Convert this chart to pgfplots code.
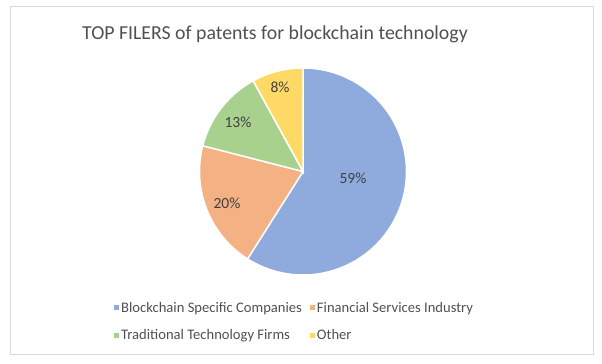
\documentclass[border=0pt]{standalone}
\usepackage{pgfplots}
\pgfplotsset{compat=1.18}
\usepackage{fontspec}
\setmainfont{Carlito}
\definecolor{cBlue}{HTML}{8FAADC}
\definecolor{cOrange}{HTML}{F4B183}
\definecolor{cGreen}{HTML}{A9D18E}
\definecolor{cYellow}{HTML}{FFD966}
\definecolor{cTitle}{HTML}{505050}
\definecolor{cLabel}{HTML}{404040}
\definecolor{cFrame}{HTML}{D9D9D9}
% shares (percent)
\def\va{59}\def\vb{20}\def\vc{13}\def\vd{8}
\pgfmathsetmacro\aA{90}
\pgfmathsetmacro\aB{\aA-3.6*\va}
\pgfmathsetmacro\aC{\aB-3.6*\vb}
\pgfmathsetmacro\aD{\aC-3.6*\vc}
\pgfmathsetmacro\aE{\aD-3.6*\vd}
\def\cx{303}\def\cy{192.5}\def\rr{103.5}
\begin{document}
\begin{tikzpicture}
\begin{axis}[
  scale only axis, width=602bp, height=364bp,
  xmin=0, xmax=602, ymin=0, ymax=364,
  hide axis, clip=false,
  legend columns=2,
  legend cell align=left,
  legend image code/.code={\fill[#1,draw=none] (0bp,-2.5bp) rectangle (5bp,2.5bp);},
  legend style={at={(axis cs:114,42.5)}, anchor=west, draw=none, fill=none,
    inner sep=0pt, row sep=12bp, text=cTitle,
    font=\fontsize{14.6bp}{17bp}\selectfont,
    /tikz/every even column/.append style={column sep=6bp}},
]
\addplot[fill=cBlue, draw=white, line width=1.5pt, domain=\aB:\aA, samples=100, variable=\t]
  ({\cx+\rr*cos(\t)},{\cy+\rr*sin(\t)}) -- (axis cs:\cx,\cy) -- cycle;
\addlegendentry{Blockchain Specific Companies}
\addplot[fill=cOrange, draw=white, line width=1.5pt, domain=\aC:\aB, samples=50, variable=\t]
  ({\cx+\rr*cos(\t)},{\cy+\rr*sin(\t)}) -- (axis cs:\cx,\cy) -- cycle;
\addlegendentry{Financial Services Industry}
\addplot[fill=cGreen, draw=white, line width=1.5pt, domain=\aD:\aC, samples=40, variable=\t]
  ({\cx+\rr*cos(\t)},{\cy+\rr*sin(\t)}) -- (axis cs:\cx,\cy) -- cycle;
\addlegendentry{Traditional Technology Firms}
\addplot[fill=cYellow, draw=white, line width=1.5pt, domain=\aE:\aD, samples=30, variable=\t]
  ({\cx+\rr*cos(\t)},{\cy+\rr*sin(\t)}) -- (axis cs:\cx,\cy) -- cycle;
\addlegendentry{Other}
% percentage labels
\begin{scope}[every node/.style={text=cLabel, font=\fontsize{15.5bp}{18bp}\selectfont}]
\node at (axis cs:353,186) {\va\%};
\node at (axis cs:227,161) {\vb\%};
\node at (axis cs:238,242) {\vc\%};
\node at (axis cs:280,277) {\vd\%};
\end{scope}
% title
\node[anchor=base, text=cTitle, font=\fontsize{19.8bp}{23bp}\selectfont]
  at (axis cs:275,324.5) {TOP FILERS of patents for blockchain technology};
% frame
\draw[cFrame, line width=1bp] (axis cs:10,357) rectangle (axis cs:593,9);
\path (axis cs:0,0) rectangle (axis cs:602,364);
\end{axis}
\end{tikzpicture}
\end{document}
